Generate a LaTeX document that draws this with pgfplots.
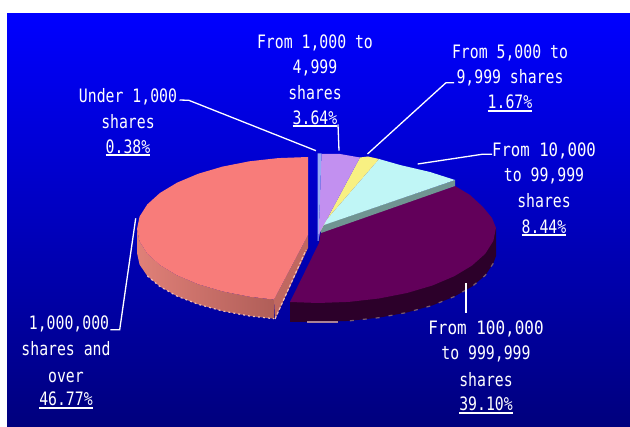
\documentclass[border=0pt]{standalone}
\usepackage{fontspec}
\setmainfont[FakeStretch=0.8]{DejaVu Sans Mono}
\usepackage{graphicx}
\usepackage{pgfplots}
\pgfplotsset{compat=1.18}
\definecolor{bgtop}{RGB}{0,0,255}
\definecolor{bgbot}{RGB}{0,0,125}
\definecolor{cred}{RGB}{248,124,122}
\definecolor{credw}{RGB}{224,128,120}
\definecolor{credd}{RGB}{176,94,88}
\definecolor{credf}{RGB}{192,104,96}
\definecolor{cpur}{RGB}{98,0,90}
\definecolor{cpurw}{RGB}{44,0,42}
\definecolor{cfringe}{RGB}{170,130,150}
\definecolor{cfringed}{RGB}{120,90,110}
\definecolor{cfringer}{RGB}{240,190,180}
\definecolor{clav}{RGB}{194,144,240}
\definecolor{cblue}{RGB}{150,170,245}
\definecolor{cyel}{RGB}{248,240,130}
\definecolor{ccya}{RGB}{192,246,246}
\definecolor{ccyw}{RGB}{112,148,146}
\newcommand\ul[1]{\setbox0\hbox{#1}\leavevmode\rlap{\rule[-3pt]{\wd0}{1.7pt}}\box0}
\newcommand\lbl[3]{\node[anchor=base,text=white,inner sep=0pt,font=\fontsize{18.5}{20}\selectfont] at (axis cs:#1,#2+6.5) {#3};}
\begin{document}
\begin{tikzpicture}
\begin{axis}[scale only axis,width=630pt,height=427pt,xmin=0,xmax=630,ymin=0,ymax=427,y dir=reverse,hide axis,clip=false]
% page and backdrop
\addplot[draw=none,fill=white] coordinates {(0,0)(630,0)(630,427)(0,427)} -- cycle;
\addplot[draw=none,top color=bgtop,bottom color=bgbot] coordinates {(7,14)(630,14)(630,427)(7,427)} -- cycle;
% red slice wall and cut face
\addplot[draw=none,left color=credw,middle color=credw,right color=credd] coordinates {(137,229)(139.6,241.5)(147.3,253.6)(159.9,265)(177,275.3)(198.1,284.2)(222.5,291.4)(249.5,296.7)(274,299.6)(274,318.7)(249.5,316)(222.5,311)(198.1,304.3)(177,296.1)(159.9,286.5)(147.3,275.9)(139.6,264.6)(137,253)} -- cycle;
\addplot[draw=none,fill=credf] coordinates {(308,235)(274,299.6)(275,319)(308,248)} -- cycle;
\addplot[cfringer,line width=1.2pt,dash pattern=on 2pt off 3pt] coordinates {(147.3,275.9)(159.9,286.5)(177,296.1)(198.1,304.3)(222.5,311)(249.5,316)(274,318.7)};
\addplot[cfringer,line width=1.2pt,dash pattern=on 3pt off 2pt] coordinates {(275,319)(306,250)};
% red slice top
\addplot[draw=none,fill=cred] coordinates {(308,157)(278.3,158.1)(249.5,161.3)(222.5,166.6)(198.1,173.8)(177,182.7)(159.9,193)(147.3,204.4)(139.6,216.5)(137,229)(139.6,241.5)(147.3,253.6)(159.9,265)(177,275.3)(198.1,284.2)(222.5,291.4)(249.5,296.7)(274,299.6)(308,235)} -- cycle;
% purple slice wall and top
\addplot[draw=none,fill=cpurw] coordinates {(496,228)(496,256)(493.3,263.3)(485.3,275.3)(472.1,286.5)(454.3,296.6)(432.4,305.4)(407,312.5)(378.9,317.7)(348.9,320.9)(318,322)(290,322)(290,302)} -- cycle;
\addplot[cfringed,line width=1.2pt,dash pattern=on 4pt off 9pt] coordinates {(493.3,263.3)(485.3,275.3)(472.1,286.5)(454.3,296.6)(432.4,305.4)(407,312.5)(378.9,317.7)(348.9,320.9)};
\addplot[draw=none,fill=cfringe] coordinates {(307,321.5)(338,321.5)(338,323.5)(307,323.5)} -- cycle;
\addplot[draw=none,fill=cpur] coordinates {(290,302)(319,243)(321,231)(455,186)(470,195)(483,207)(492,218)(496,228)(493.3,241)(485.3,253.7)(472.1,265.5)(454.3,276.2)(432.4,285.5)(407,293)(378.9,298.5)(348.9,301.9)(318,303)} -- cycle;
% small slices
\addplot[draw=none,fill=ccyw] coordinates {(455,180)(455,186)(321,233)(320,226)} -- cycle;
\addplot[draw=none,fill=ccya] coordinates {(379,159)(400,165)(430,172)(455,180)(321,226)} -- cycle;
\addplot[draw=none,fill=cyel] coordinates {(360,157.5)(368,156.5)(379,159)(321,226)(320,232)} -- cycle;
\addplot[draw=none,fill=clav] coordinates {(321.5,154)(340,154)(360,157.5)(320,232)(318.5,240)} -- cycle;
\addplot[draw=none,fill=cblue] coordinates {(317.5,153.5)(321.5,153.5)(318.5,241)(317.5,241)} -- cycle;
% leaders
\addplot[white,line width=1.3pt] coordinates {(179.5,100)(188.8,100.3)(316,150.7)};
\addplot[white,line width=1.3pt] coordinates {(338,124.5)(339,150.7)};
\addplot[white,line width=1.3pt] coordinates {(454,82.7)(446,82.7)(367.5,154)};
\addplot[white,line width=1.3pt] coordinates {(492,154.3)(482,154.3)(417.7,164)};
\addplot[white,line width=1.3pt] coordinates {(466,283.3)(466,312.7)};
\addplot[white,line width=1.3pt] coordinates {(110.4,329.7)(119.7,329.7)(135.7,218.3)};
% labels
\lbl{315}{41.7}{From 1,000 to}
\lbl{315}{66.7}{4,999}
\lbl{315}{93.3}{shares}
\lbl{315}{117.7}{\ul{3.64\%}}
\lbl{510}{51.7}{From 5,000 to}
\lbl{510}{77}{9,999 shares}
\lbl{510}{102.3}{\ul{1.67\%}}
\lbl{128}{95.7}{Under 1,000}
\lbl{128}{122.3}{shares}
\lbl{128}{146.7}{\ul{0.38\%}}
\lbl{544}{150}{\scalebox{1.06}[1]{From 10,000}}
\lbl{544}{174.7}{to 99,999}
\lbl{544}{201.3}{shares}
\lbl{544}{226.7}{\ul{8.44\%}}
\lbl{486}{327.7}{\scalebox{1.08}[1]{From 100,000}}
\lbl{486}{353.3}{to 999,999}
\lbl{486}{380}{shares}
\lbl{486}{404.3}{\ul{39.10\%}}
\lbl{69}{323.3}{1,000,000}
\lbl{66}{349.3}{shares and}
\lbl{66}{375.7}{over}
\lbl{66}{399.3}{\ul{46.77\%}}
\end{axis}
\end{tikzpicture}
\end{document}
